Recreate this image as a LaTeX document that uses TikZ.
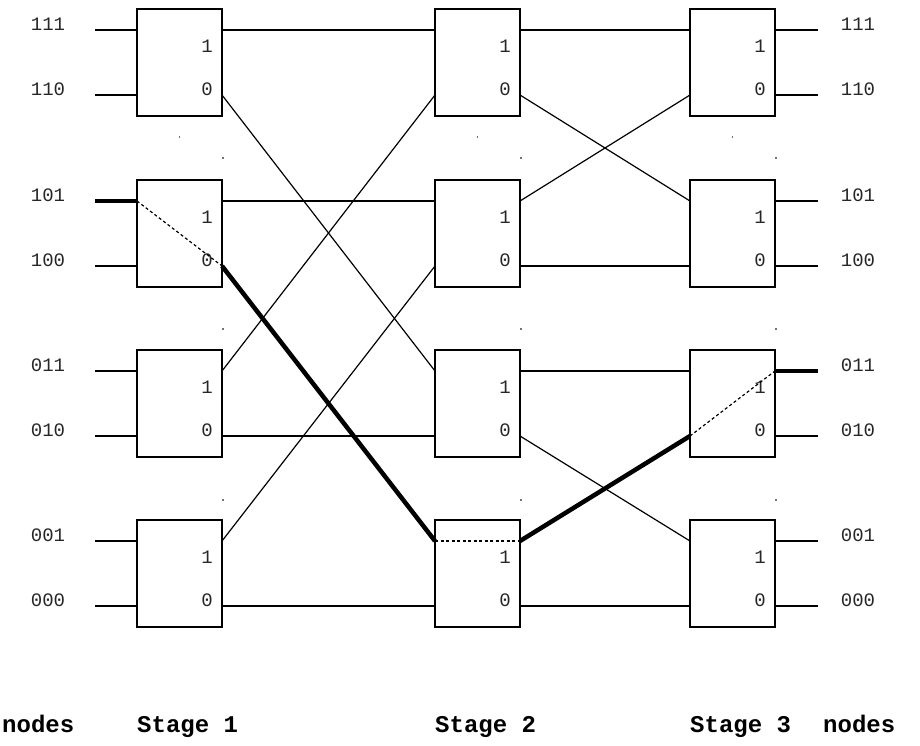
\documentclass[tikz,border=0pt]{standalone}
\usepackage{fontspec}
\setmonofont{Liberation Mono}
\usetikzlibrary{calc}
\begin{document}
\begin{tikzpicture}[x=1pt,y=-1pt,
  swbox/.style={draw,line width=1.4pt,minimum width=85pt,minimum height=107pt,inner sep=0pt,outer sep=0pt},
  wire/.style={line width=1.2pt},
  route/.style={line width=4.5pt},
  via/.style={line width=1.2pt,dash pattern=on 3pt off 2.5pt},
  portlab/.style={font=\ttfamily\fontsize{19}{19}\selectfont,inner sep=0pt,text=black!85},
  addr/.style={font=\ttfamily\fontsize{19}{19}\selectfont,inner sep=0pt,text=black!85},
  caption/.style={font=\ttfamily\bfseries\fontsize{24}{24}\selectfont,inner sep=0pt,anchor=base west},
  speck/.style={fill=black!55,inner sep=0pt,minimum size=1.3pt,rectangle}]

\useasboundingbox (0,0) rectangle (920,745);

% switch boxes: three stages, four rows
\foreach \s/\x in {1/137,2/435,3/690}
  \foreach \r/\t in {1/9,2/180,3/350,4/520} {
    \node[swbox] (s\s-\r) at (\x+42.5,\t+53.5) {};
    \coordinate (s\s-\r-i1) at (\x,\t+21);
    \coordinate (s\s-\r-i0) at (\x,\t+86);
    \coordinate (s\s-\r-o1) at (\x+85,\t+21);
    \coordinate (s\s-\r-o0) at (\x+85,\t+86);
    \node[portlab] (s\s-\r-l1) at (\x+70,\t+37) {1};
    \node[portlab] (s\s-\r-l0) at (\x+70,\t+80) {0};
  }

% node addresses and the short wires into stage 1 / out of stage 3
\foreach \r/\t/\a/\b in {1/9/111/110,2/180/101/100,3/350/011/010,4/520/001/000} {
  \coordinate (in-\r-1) at (95,\t+21);
  \coordinate (in-\r-0) at (95,\t+86);
  \coordinate (out-\r-1) at (818,\t+21);
  \coordinate (out-\r-0) at (818,\t+86);
  \node[addr] (la-\r-1) at (48,\t+15) {\a};
  \node[addr] (la-\r-0) at (48,\t+80) {\b};
  \node[addr] (ra-\r-1) at (858,\t+15) {\a};
  \node[addr] (ra-\r-0) at (858,\t+80) {\b};
  \draw[wire] (in-\r-1) -- (s1-\r-i1);
  \draw[wire] (in-\r-0) -- (s1-\r-i0);
  \draw[wire] (s3-\r-o1) -- (out-\r-1);
  \draw[wire] (s3-\r-o0) -- (out-\r-0);
}

% stage 1 -> stage 2 (perfect shuffle)
\draw[wire] (s1-1-o1) -- (s2-1-i1);
\draw[wire] (s1-1-o0) -- (s2-3-i1);
\draw[wire] (s1-2-o1) -- (s2-2-i1);
\draw[wire] (s1-2-o0) -- (s2-4-i1);
\draw[wire] (s1-3-o1) -- (s2-1-i0);
\draw[wire] (s1-3-o0) -- (s2-3-i0);
\draw[wire] (s1-4-o1) -- (s2-2-i0);
\draw[wire] (s1-4-o0) -- (s2-4-i0);

% stage 2 -> stage 3
\draw[wire] (s2-1-o1) -- (s3-1-i1);
\draw[wire] (s2-1-o0) -- (s3-2-i1);
\draw[wire] (s2-2-o1) -- (s3-1-i0);
\draw[wire] (s2-2-o0) -- (s3-2-i0);
\draw[wire] (s2-3-o1) -- (s3-3-i1);
\draw[wire] (s2-3-o0) -- (s3-4-i1);
\draw[wire] (s2-4-o1) -- (s3-3-i0);
\draw[wire] (s2-4-o0) -- (s3-4-i0);

% routed path 101 -> 011
\draw[route] (in-2-1) -- (s1-2-i1);
\draw[via] (s1-2-i1) -- (s1-2-o0);
\draw[route] (s1-2-o0) -- (s2-4-i1);
\draw[via] (s2-4-i1) -- (s2-4-o1);
\draw[route] (s2-4-o1) -- (s3-3-i0);
\draw[via] (s3-3-i0) -- (s3-3-o1);
\draw[route] (s3-3-o1) -- (out-3-1);

% faint specks between the rows
\foreach \x/\n in {179.5/a,477.5/b,732.5/c}
  \node[speck] (sp-\n) at (\x,137) {};
\foreach \x/\n in {223/a,521/b,776/c}
  \foreach \y/\m in {158/1,329/2,500/3}
    \node[speck] (sq-\n\m) at (\x,\y) {};

% captions
\node[caption] (cap-l) at (2,732) {nodes};
\node[caption] (cap-1) at (137,732) {Stage 1};
\node[caption] (cap-2) at (435,732) {Stage 2};
\node[caption] (cap-3) at (690,732) {Stage 3};
\node[caption] (cap-r) at (823,732) {nodes};
\end{tikzpicture}
\end{document}
